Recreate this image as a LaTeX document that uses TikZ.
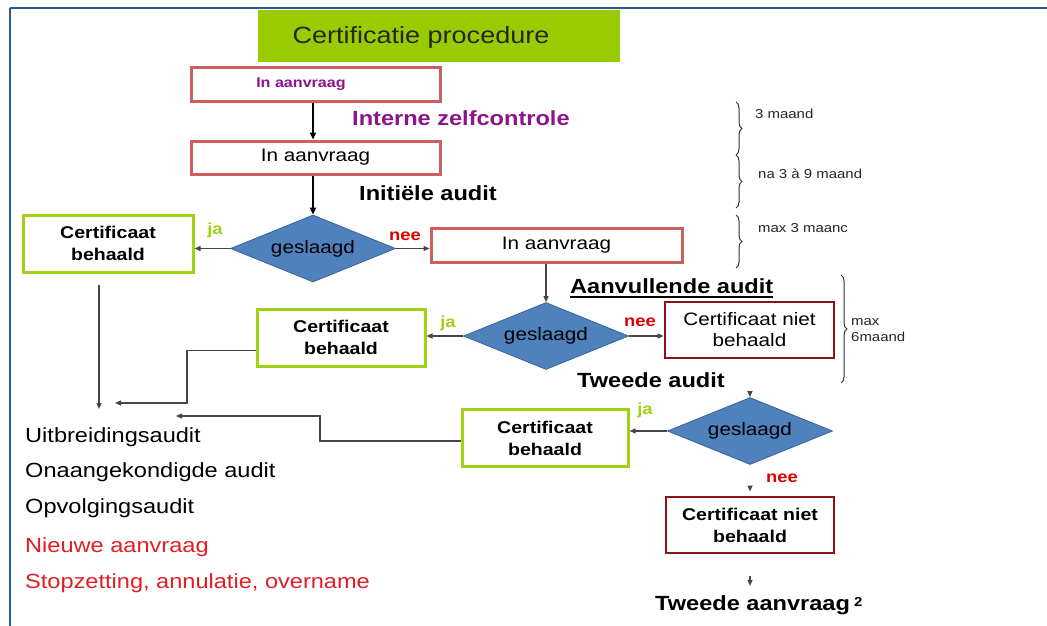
\documentclass[tikz,border=0pt]{standalone}
\usepackage{fontspec}
\setmainfont{Liberation Sans}[FakeStretch=1.15]
\usetikzlibrary{shapes.geometric,arrows.meta,decorations.pathreplacing}
\definecolor{framecol}{RGB}{46,90,143}
\definecolor{titlegreen}{RGB}{153,204,0}
\definecolor{boxred}{RGB}{204,96,96}
\definecolor{purp}{RGB}{140,20,140}
\definecolor{okgreen}{RGB}{160,210,20}
\definecolor{diafill}{RGB}{79,129,189}
\definecolor{diadraw}{RGB}{58,100,148}
\definecolor{darkred}{RGB}{140,20,20}
\definecolor{txtred}{RGB}{225,30,36}
\definecolor{neered}{RGB}{220,0,0}
\definecolor{linegray}{RGB}{70,70,70}
\newcommand{\fsz}[2]{\fontsize{#1pt}{#2pt}\selectfont}
\begin{document}
\begin{tikzpicture}[x=1pt,y=-1pt,
  reqbox/.style={draw=boxred, line width=3pt, inner sep=0pt, align=center},
  okbox/.style={draw=okgreen, line width=3pt, inner sep=0pt, align=center, font=\fsz{17}{22}\bfseries},
  failbox/.style={draw=darkred, line width=2.8pt, inner sep=0pt, align=center},
  decision/.style={diamond, fill=diafill, draw=diadraw, line width=0.8pt, shape aspect=2.46,
    minimum width=165pt, minimum height=67pt, inner sep=0pt, font=\fsz{18}{22}},
  arr/.style={-{Triangle[length=6pt,width=5pt]}, line width=1.2pt, draw=linegray},
  arrbold/.style={-{Triangle[length=7pt,width=6pt]}, line width=2pt, draw=black},
  lbl/.style={inner sep=0pt, anchor=base west, font=\fsz{20.5}{24}\bfseries},
  listtxt/.style={inner sep=0pt, anchor=base west, font=\fsz{20.5}{24}},
  jalbl/.style={inner sep=0pt, text=okgreen, font=\fsz{16}{18}\bfseries},
  neelbl/.style={inner sep=0pt, text=neered, font=\fsz{16}{18}\bfseries},
  brc/.style={decorate, decoration={brace, amplitude=6pt}, line width=1pt, draw=black!80},
  brctxt/.style={inner sep=0pt, anchor=west, font=\fsz{13}{15}, text=black!85}
]
\useasboundingbox (0,0) rectangle (1047,626);
\fill[white] (0,0) rectangle (1047,626);
% frame
\draw[framecol, line width=2.5pt] (10,8) -- (1047,8);
\draw[framecol, line width=1.5pt] (10,8) -- (10,626);

% title
\node[fill=titlegreen, minimum width=362pt, minimum height=52pt, inner sep=0pt] (title) at (439,36) {};
\node[inner sep=0pt, text=black!85, font=\fsz{23.5}{28}] (titletxt) at (421,37) {Certificatie procedure};

% request boxes
\node[reqbox, minimum width=249pt, minimum height=33pt] (box1) at (315.5,84.5) {};
\node[inner sep=0pt, text=purp, font=\fsz{14}{16}\bfseries] (box1txt) at (301,84) {In aanvraag};
\node[reqbox, minimum width=249pt, minimum height=33pt, font=\fsz{18}{20}] (box2) at (315.5,157.5) {In aanvraag};
\node[reqbox, minimum width=251pt, minimum height=34pt, font=\fsz{18}{20}] (box3) at (556.5,245) {In aanvraag};

% labels
\node[lbl, text=purp] (intern) at (352,125) {Interne zelfcontrole};
\node[lbl] (initieel) at (359,200) {Initiële audit};
\node[lbl] (aanv) at (570,293) {Aanvullende audit};
\draw[line width=1.6pt] ([yshift=-4pt]aanv.base west) -- ([yshift=-4pt]aanv.base east);
\node[lbl] (tweede) at (577,387) {Tweede audit};

% decisions
\node[decision] (d1) at (313,248.5) {geslaagd};
\node[decision] (d2) at (546,336) {geslaagd};
\node[decision] (d3) at (750,431) {geslaagd};

% outcome boxes
\node[okbox, minimum width=170pt, minimum height=57pt] (g1) at (108,243.5) {Certificaat\\behaald};
\node[okbox, minimum width=168pt, minimum height=57pt] (g2) at (341,337.5) {Certificaat\\behaald};
\node[okbox, minimum width=166pt, minimum height=57pt] (g3) at (545,438) {Certificaat\\behaald};
\node[failbox, minimum width=169pt, minimum height=56pt, font=\fsz{18}{21}] (f1) at (749.5,330) {Certificaat niet\\behaald};
\node[failbox, minimum width=168pt, minimum height=56pt, font=\fsz{17}{22}\bfseries] (f2) at (750,525) {Certificaat niet\\behaald};

% ja / nee
\node[jalbl] (ja1) at (215,230) {ja};
\node[neelbl] (nee1) at (405,236) {nee};
\node[jalbl] (ja2) at (448,323) {ja};
\node[neelbl] (nee2) at (640,322) {nee};
\node[jalbl] (ja3) at (645,410) {ja};
\node[neelbl] (nee3) at (782,478) {nee};

% bottom text
\node[lbl] (aanvr2) at (655,610) {Tweede aanvraag};
\node[inner sep=0pt, anchor=base west, font=\fsz{13}{15}\bfseries] (sup2) at (854,606) {2};

% list
\node[listtxt] (l1) at (25,442) {Uitbreidingsaudit};
\node[listtxt] (l2) at (25,477) {Onaangekondigde audit};
\node[listtxt] (l3) at (25,513) {Opvolgingsaudit};
\node[listtxt, text=txtred] (l4) at (25,552) {Nieuwe aanvraag};
\node[listtxt, text=txtred] (l5) at (25,588) {Stopzetting, annulatie, overname};

% connectors
\draw[arrbold] (box1.south -| d1.north) -- (box2.north -| d1.north);
\draw[arrbold] (box2.south -| d1.north) -- (d1.north);
\draw[arr] (d1.west) -- (d1.west -| g1.east);
\draw[arr] (d1.east) -- (d1.east -| box3.west);
\draw[arr, line width=1.4pt] (box3.south -| d2.north) -- (d2.north);
\draw[arr] (d2.west) -- (d2.west -| g2.east);
\draw[arr] (d2.east) -- (d2.east -| f1.west);
\draw[arr, shorten <=32pt] (f1.south) -- (d3.north);
\draw[arr] (d3.west) -- (d3.west -| g3.east);
\draw[arr, shorten <=21pt, shorten >=4pt] (d3.south) -- (f2.north);
\draw[arr, shorten <=22pt, shorten >=9pt] (f2.south) -- (aanvr2.north -| f2.south);

\coordinate (t1) at (99,409);
\coordinate (c2) at (187,403);
\coordinate (t2) at (115,403);
\coordinate (c3) at (320,416);
\coordinate (t3) at (176,416);
\draw[arr, shorten <=11pt] (g1.south -| t1) -- (t1);
\draw[arr] ([yshift=-13pt]g2.west) -| (c2) -- (t2);
\draw[arr] ([yshift=-3pt]g3.west) -| (c3) -- (t3);

% braces
\coordinate (b1a) at (736,102); \coordinate (b1b) at (736,155);
\coordinate (b2a) at (736,155); \coordinate (b2b) at (736,208);
\coordinate (b3a) at (736,215); \coordinate (b3b) at (736,268);
\coordinate (b4a) at (841,275); \coordinate (b4b) at (841,383);
\draw[brc] (b1a) -- (b1b);
\draw[brc] (b2a) -- (b2b);
\draw[brc] (b3a) -- (b3b);
\draw[brc] (b4a) -- (b4b);
\node[brctxt] (m1) at (755,114) {3 maand};
\node[brctxt] (m2) at (758,174) {na 3 à 9 maand};
\node[brctxt] (m3) at (758,228) {max 3 maanc};
\node[brctxt] (m4) at (851,322) {max};
\node[brctxt] (m5) at (851,337) {6maand};
\end{tikzpicture}
\end{document}
